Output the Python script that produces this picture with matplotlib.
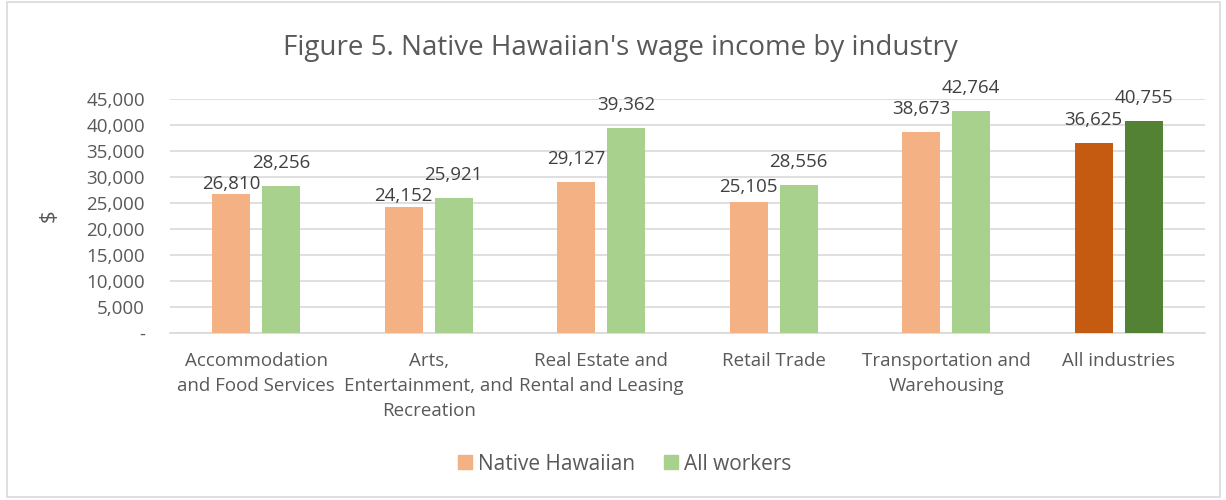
import matplotlib
matplotlib.use("Agg")
import matplotlib.pyplot as plt
import numpy as np
from matplotlib.patches import Rectangle, Patch

categories = ["Accommodation\nand Food Services", "Arts,\nEntertainment, and\nRecreation",
              "Real Estate and\nRental and Leasing", "Retail Trade",
              "Transportation and\nWarehousing", "All industries"]
native = [26810, 24152, 29127, 25105, 38673, 36625]
allw = [28256, 25921, 39362, 28556, 42764, 40755]
yticks = [0, 5000, 10000, 15000, 20000, 25000, 30000, 35000, 40000, 45000]
ytick_labels = ["-", "5,000", "10,000", "15,000", "20,000", "25,000", "30,000", "35,000", "40,000", "45,000"]

# label gap above bar (pixels), some native labels nudged down as in the original
native_gap = [1, 2, 14, 6, 14, 14]
all_gap = [14, 14, 14, 14, 14, 14]

plt.rcParams['font.family'] = ['Open Sans', 'DejaVu Sans']
txt = "#595959"
c_nat = ["#F4B183"] * 5 + ["#C55A11"]
c_all = ["#A9D18E"] * 5 + ["#548235"]

fig = plt.figure(figsize=(12.26, 5), dpi=100)
ax = fig.add_axes([170/1226, 1-333/500, (1205-170)/1226, (333-99)/500])
x = np.arange(len(categories))
w = 0.22
off = 0.145
b1 = ax.bar(x - off, native, w, color=c_nat, zorder=3)
b2 = ax.bar(x + off, allw, w, color=c_all, zorder=3)
for bars, vals, gaps in ((b1, native, native_gap), (b2, allw, all_gap)):
    for r, v, g in zip(bars, vals, gaps):
        ax.annotate(f"{v:,}", (r.get_x() + r.get_width()/2, v), xytext=(0, g * 0.72),
                    textcoords="offset points", ha="center", va="bottom",
                    fontsize=13.5, color="#404040", clip_on=False)
ax.set_xlim(-0.5, len(categories) - 0.5)
ax.set_ylim(0, 45000)
ax.set_yticks(yticks)
ax.set_yticklabels(ytick_labels, fontsize=13.5, color=txt)
ax.set_xticks(x)
ax.set_xticklabels(categories, fontsize=13.5, color=txt, linespacing=1.5, va="top")
ax.tick_params(axis="both", length=0)
ax.tick_params(axis="y", pad=18)
ax.tick_params(axis="x", pad=14)
ax.grid(axis="y", color="#D9D9D9", linewidth=1.2, zorder=0)
for s in ["top", "right", "left"]:
    ax.spines[s].set_visible(False)
ax.spines["bottom"].set_color("#D9D9D9")
ax.spines["bottom"].set_linewidth(1.2)
ax.set_ylabel("$", fontsize=16, color=txt)
ax.yaxis.set_label_coords(-110/1035, 0.5)

fig.text(620/1226, 1-48/500, "Figure 5. Native Hawaiian's wage income by industry",
         ha="center", va="center", fontsize=20, color=txt)

handles = [Patch(color="#F4B183", label="Native Hawaiian"), Patch(color="#A9D18E", label="All workers")]
fig.legend(handles=handles, loc="center", bbox_to_anchor=(625/1226, 1-464/500), ncol=2,
           frameon=False, fontsize=15, labelcolor=txt, handlelength=0.65, handleheight=0.65,
           columnspacing=1.4, handletextpad=0.3)

fig.patches.append(Rectangle((7/1226, 3/500), 1-13/1226, 1-5/500, transform=fig.transFigure,
                             fill=False, edgecolor="#D9D9D9", linewidth=1.2))
fig.savefig("out.png", dpi=100, facecolor="white")
